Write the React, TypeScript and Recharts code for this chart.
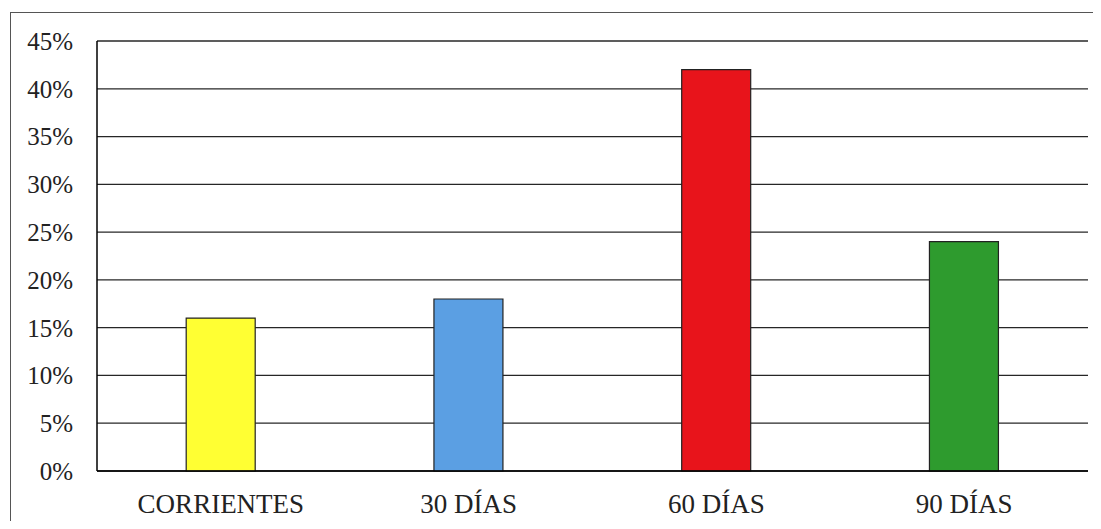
import { BarChart, Bar, XAxis, YAxis, CartesianGrid, Cell } from 'recharts';

const categories = ['CORRIENTES', '30 DÍAS', '60 DÍAS', '90 DÍAS'];
const shares = [16, 18, 42, 24];
const barColors = ['#FFFF33', '#5B9FE3', '#E8141B', '#2E9B2E'];
const yTicks = [0, 5, 10, 15, 20, 25, 30, 35, 40, 45];

const data = categories.map((name, i) => ({ name, value: shares[i] }));

const font = 'Times New Roman, Liberation Serif, Tinos, DejaVu Serif, serif';

export default function App() {
  return (
    <div
      style={{
        position: 'relative',
        width: 1101,
        height: 529,
        margin: -8,
        overflow: 'hidden',
        background: '#fff',
        fontFamily: font,
      }}
    >
      <div
        style={{
          position: 'absolute',
          left: 10,
          top: 12,
          width: 1110,
          height: 540,
          border: '1.5px solid #555',
          boxSizing: 'border-box',
        }}
      />
      <BarChart
        width={1101}
        height={529}
        data={data}
        margin={{ top: 41, right: 13, bottom: 28, left: 0 }}
        barCategoryGap="36%"
        style={{ position: 'absolute', left: 0, top: 0, fontFamily: font }}
      >
        <CartesianGrid vertical={false} stroke="#000" strokeWidth={1.3} strokeOpacity={0.85} />
        <XAxis
          dataKey="name"
          height={30}
          axisLine={{ stroke: '#000', strokeWidth: 1.5 }}
          tickLine={false}
          tickSize={0}
          tickMargin={23}
          tick={{ fill: '#222', fontSize: 27, fontFamily: font }}
          interval={0}
        />
        <YAxis
          width={97}
          domain={[0, 45]}
          ticks={yTicks}
          tickFormatter={(v: number) => `${v}%`}
          axisLine={{ stroke: '#000', strokeWidth: 1.5 }}
          tickLine={false}
          tickSize={0}
          tickMargin={24}
          tick={{ fill: '#222', fontSize: 25, fontFamily: font }}
        />
        <YAxis
          yAxisId="right"
          orientation="right"
          width={0}
          domain={[0, 45]}
          tick={false}
          tickLine={false}
          axisLine={{ stroke: '#000', strokeWidth: 1.5 }}
        />
        <Bar dataKey="value" stroke="#222" strokeWidth={1.2} isAnimationActive={false}>
          {data.map((d, i) => (
            <Cell key={d.name} fill={barColors[i]} />
          ))}
        </Bar>
      </BarChart>
    </div>
  );
}
